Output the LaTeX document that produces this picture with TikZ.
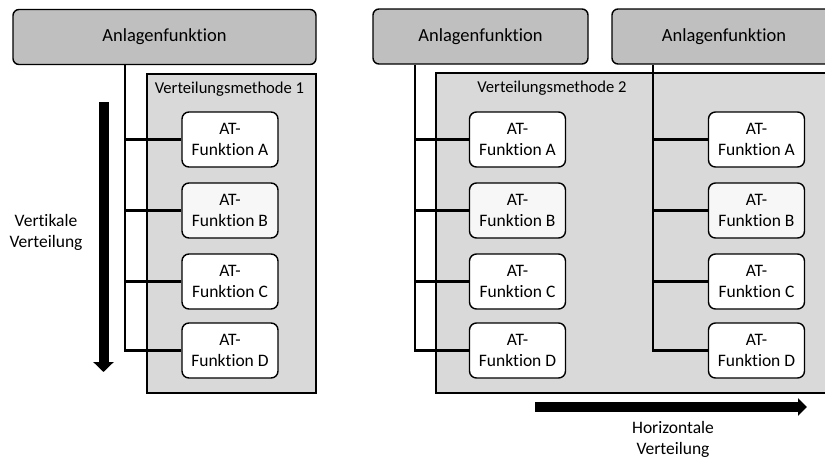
\documentclass[tikz,border=0pt]{standalone}
\usepackage{fontspec}
\setmainfont{Carlito}[Ligatures={NoCommon,NoContextual}]
\usetikzlibrary{arrows.meta}
\definecolor{hdrgray}{HTML}{BFBFBF}
\definecolor{vmgray}{HTML}{D9D9D9}
\tikzset{
  hdr/.style={draw=black, line width=1.4pt, rounded corners=6pt, fill=hdrgray, inner sep=0pt,
    minimum height=55pt, font=\fontsize{18.5pt}{22pt}\selectfont},
  vmbox/.style={draw=black, line width=1.6pt, fill=vmgray},
  atbox/.style={draw=black, line width=1.4pt, rounded corners=7pt, fill=white, inner sep=0pt,
    minimum width=96pt, minimum height=55pt, align=center, font=\fontsize{17.5pt}{21pt}\selectfont},
  vmlabel/.style={font=\fontsize{16.6pt}{20pt}\selectfont, inner sep=0pt},
  conn/.style={draw=black, line width=2.8pt},
  bigarrow/.style={line width=10pt, -{Triangle[width=20pt,length=10pt]}},
  sidelabel/.style={align=center, font=\fontsize{17.5pt}{21pt}\selectfont, inner sep=0pt}
}
\begin{document}
\begin{tikzpicture}[x=1pt,y=-1pt]
\useasboundingbox (0,0) rectangle (825,461);
\clip (0,0) rectangle (825,461);
% headers
\node[hdr, minimum width=303pt] (hl) at (164.5,37) {Anlagenfunktion};
\node[hdr, minimum width=215pt] (hr1) at (480.5,36.5) {Anlagenfunktion};
\node[hdr, minimum width=224pt] (hr2) at (724,36.5) {Anlagenfunktion};
% distribution method regions
\path[vmbox] (147,74) rectangle (316,393);
\path[vmbox] (436,73) rectangle (845,393);
\node[vmlabel] (vm1) at (229.5,89) {Verteilungsmethode 1};
\node[vmlabel] (vm2) at (552,88) {Verteilungsmethode 2};
% AT boxes
\foreach \c/\x in {l/230, m/517.5, r/756.5}{
  \node[atbox] (\c a) at (\x,139.5) {AT-\\Funktion A};
  \node[atbox, fill=black!3] (\c b) at (\x,210.5) {AT-\\Funktion B};
  \node[atbox] (\c c) at (\x,281.5) {AT-\\Funktion C};
  \node[atbox] (\c d) at (\x,350.5) {AT-\\Funktion D};
}
% trunks
\coordinate (t1) at (125,0);
\coordinate (t2) at (415,0);
\coordinate (t3) at (653,0);
\draw[conn] (hl.south -| t1) |- (ld.west);
\draw[conn] (la.west -| t1) -- (la.west);
\draw[conn] (lb.west -| t1) -- (lb.west);
\draw[conn] (lc.west -| t1) -- (lc.west);
\draw[conn] (hr1.south -| t2) |- (md.west);
\draw[conn] (ma.west -| t2) -- (ma.west);
\draw[conn] (mb.west -| t2) -- (mb.west);
\draw[conn] (mc.west -| t2) -- (mc.west);
\draw[conn] (hr2.south -| t3) |- (rd.west);
\draw[conn] (ra.west -| t3) -- (ra.west);
\draw[conn] (rb.west -| t3) -- (rb.west);
\draw[conn] (rc.west -| t3) -- (rc.west);
% big arrows
\coordinate (vs) at (103.5,102);
\coordinate (ve) at (103.5,372);
\draw[bigarrow] (vs) -- (ve);
\coordinate (hs) at (535,407);
\coordinate (he) at (807,407);
\draw[bigarrow, -{Triangle[width=17pt,length=9pt]}] (hs) -- (he);
\node[sidelabel] (vl) at (46,232) {Vertikale\\Verteilung};
\node[sidelabel] (hlab) at (673,439) {Horizontale\\Verteilung};
\end{tikzpicture}
\end{document}
